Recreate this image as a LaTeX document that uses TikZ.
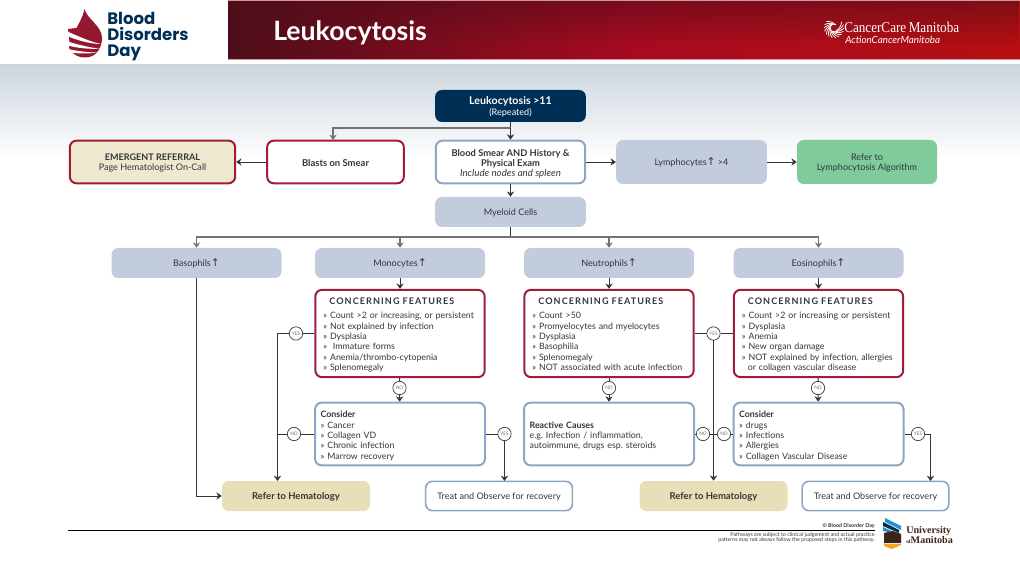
\documentclass[tikz,border=0pt]{standalone}
\usepackage{fontspec}
\setmainfont{Lato}
\newfontfamily\serifbrand{Liberation Serif}
\newfontfamily\serifnarrow[FakeStretch=0.88]{Liberation Serif}
\newfontfamily\wordmark{Poppins}
\newfontfamily\symbolfont{DejaVu Sans}
\usetikzlibrary{arrows.meta,fadings}
\definecolor{navy}{HTML}{002F56}
\definecolor{crimson}{HTML}{A11C36}
\definecolor{steel}{HTML}{8FA5C6}
\definecolor{mist}{HTML}{C2CCDC}
\definecolor{sand}{HTML}{E8DFB8}
\definecolor{cream}{HTML}{EEE8CF}
\definecolor{leaf}{HTML}{7FCB9C}
\definecolor{ink}{HTML}{333638}
\definecolor{drop}{HTML}{94182F}
\definecolor{haze}{HTML}{CCD6DE}
\definecolor{bannerl}{HTML}{4E0D1A}
\definecolor{bannerm}{HTML}{A80B20}
\definecolor{bannerr}{HTML}{B50F12}
\definecolor{shieldb}{HTML}{2A8FD0}
\definecolor{bison}{HTML}{3E2418}
\definecolor{wheat}{HTML}{F2A81E}
\tikzset{
  box/.style={rounded corners=5pt,inner sep=0pt,align=center,text=ink,
    font=\fontsize{6.8}{7.8}\selectfont},
  redbox/.style={box,draw=crimson,line width=1.5pt,fill=white},
  bluebox/.style={box,draw=steel,line width=1.5pt,fill=white},
  graybox/.style={box,fill=mist},
  listbox/.style={align=left,inner xsep=6pt,text width=115pt,minimum height=65.5pt,
    font=\fontsize{6.6}{7.8}\selectfont},
  conbox/.style={align=left,inner xsep=4.25pt,text width=119pt,minimum height=47pt,
    font=\fontsize{6.6}{7.8}\selectfont},
  cell/.style={graybox,minimum width=127.5pt,minimum height=22.5pt},
  tag/.style={circle,draw=ink,line width=.5pt,fill=white,inner sep=0pt,minimum size=10pt,
    text=ink!70,font=\fontsize{3.6}{4}\selectfont},
  link/.style={ink,line width=.7pt,>={Stealth[length=4pt,width=5.5pt]}},
  bus/.style={link,draw=ink!70,line width=1pt},
  refer/.style={box,fill=sand,minimum width=111pt,minimum height=22.5pt,
    font=\fontsize{7.1}{7.8}\selectfont\bfseries},
  treat/.style={bluebox,line width=1.2pt,minimum width=110pt,minimum height=22pt},
}
\newcommand{\dn}[1]{\rule{0pt}{#1pt}}
\newcommand{\up}{{\symbolfont\fontsize{8}{7}\selectfont ↑}}
\newcommand{\cftitle}{{\addfontfeature{LetterSpace=12}\fontsize{6.8}{7.8}\selectfont\bfseries CONCERNING FEATURES}}
\begin{document}
\begin{tikzpicture}[x=.75pt,y=-.75pt]
\useasboundingbox(0,0)rectangle(1020,573);
% backdrop and banner
\shade[top color=haze,bottom color=white](0,65)rectangle(1020,160);
\shade[left color=bannerl,right color=bannerm](228,0)rectangle(640,60);
\shade[left color=bannerm,right color=bannerr](640,0)rectangle(1020,60);
\fill[black!45!drop,opacity=.55,path fading=south](228,0)rectangle(1020,45);
\draw[white!55!drop,line width=.75pt](228,.4)--(1020,.4)(228,59.6)--(1020,59.6);
\node[anchor=west,inner sep=0pt,text=white,font=\fontsize{20}{22}\selectfont\bfseries]at(273,33){Leukocytosis};
% blood drop emblem
\fill[drop](84.5,9)..controls(83,17)and(79,23)..(76.5,28)--(68,29)..controls(69,36)and(70,44)..(69,48)
  ..controls(72,54)and(78,58)..(86,57.5)..controls(97,57)and(102,47)..(102,38)
  ..controls(102,26)and(87,19)..(84.5,9)--cycle;
\fill[white](66,31)..controls(76,35)and(90,42)..(101,44)..controls(90,44)and(76,40)..(66,35.5)--cycle;
\fill[white](66,41)..controls(76,44)and(90,48)..(100,48.5)..controls(90,49.5)and(76,48)..(66,45)--cycle;
\fill[white](66,48.5)..controls(76,51)and(88,52.5)..(97,52.5)..controls(88,54)and(76,54)..(66,51.5)--cycle;
\node[anchor=west,inner sep=0pt,text=navy,align=left,font=\wordmark\fontsize{12.4}{12}\selectfont\bfseries]at(107,36.5){Blood\\Disorders\\Day};
% cancer care mark
\foreach\r in {-40,-20,...,220}{
  \draw[white,line width=.55pt]([shift={(\r:10)}]834,28)to[bend left=25]([shift={(\r+85:3.5)}]834,28);
}
\node[anchor=west,text=white,inner sep=0pt,font=\serifnarrow\fontsize{11.2}{12}\selectfont]at(844,27){CancerCare\,Manitoba};
\node[anchor=west,text=white,inner sep=0pt,font=\fontsize{7.4}{9}\selectfont\itshape]at(845,40){ActionCancerManitoba};
% flow, top part
\node[box,fill=navy,text=white,minimum width=113pt,minimum height=24pt](leuk)at(510.5,106)
  {\dn{7}{\fontsize{8}{9}\selectfont\bfseries Leukocytosis >11}\\(Repeated)};
\node[redbox,minimum width=102.5pt,minimum height=32pt,font=\fontsize{7.1}{7.8}\selectfont\bfseries](blasts)at(335.5,162){\dn{6.5}Blasts on Smear};
\node[redbox,fill=cream,minimum width=124pt,minimum height=32pt](emerg)at(152.5,162)
  {\dn{6.5}\textbf{EMERGENT REFERRAL}\\Page Hematologist On-Call};
\node[bluebox,minimum width=112pt,minimum height=32pt](smear)at(510.5,162)
  {\dn{8}{\fontsize{7}{7.8}\selectfont\textbf{Blood Smear AND History \&}}\\{\fontsize{7}{7.8}\selectfont\textbf{Physical Exam}}\\{\fontsize{7.3}{7.8}\selectfont\textit{Include nodes and spleen}}};
\node[graybox,minimum width=113pt,minimum height=33pt](lymph)at(691.5,162){\dn{6.5}Lymphocytes\up\ >4};
\node[box,fill=leaf,minimum width=105pt,minimum height=33pt](algo)at(867,162){\dn{6.5}Refer to\\Lymphocytosis Algorithm};
\node[graybox,minimum width=113pt,minimum height=22.5pt](myeloid)at(510.5,212){\dn{6.5}Myeloid Cells};
\coordinate(topbus)at(510.5,128);
\coordinate(midbus)at(510.5,237);
\coordinate(blastin)at(333,140);
\draw[link](leuk)--(topbus);
\draw[bus,->](topbus)-|(blastin);
\draw[link,->](topbus)--(smear);
\draw[link,->](blasts)--(emerg);
\draw[link,->](smear)--(lymph);
\draw[link,->](lymph)--(algo);
\draw[link,->](smear)--(myeloid);
% the four cell lines
\node[cell](baso)at(196.5,263){\dn{6.5}Basophils\up};
\node[cell](mono)at(400,263){\dn{6.5}Monocytes\up};
\node[cell](neut)at(609,263){\dn{6.5}Neutrophils\up};
\node[cell](eosi)at(818.5,263){\dn{6.5}Eosinophils\up};
\draw[link](myeloid)--(midbus);
\draw[bus,->](midbus)-|(baso);
\draw[bus,->](midbus)-|(mono);
\draw[bus,->](midbus)-|(neut);
\draw[bus,->](midbus)-|(eosi);
\node[redbox,listbox](cfa)at(400,333.5){\hspace*{4.5pt}\dn{7}\cftitle\\[3.2pt]
  » Count >2 or increasing, or persistent\\» Not explained by infection\\» Dysplasia\\»\ \ Immature forms\\» Anemia/thrombo-cytopenia\\» Splenomegaly\vphantom{y}};
\node[redbox,listbox](cfb)at(609,333.5){\hspace*{4.5pt}\dn{7}\cftitle\\[3.2pt]
  » Count >50\\» Promyelocytes and myelocytes\\» Dysplasia\\» Basophilia\\» Splenomegaly\\» NOT associated with acute infection\vphantom{y}};
\node[redbox,listbox](cfc)at(818.5,333.5){\hspace*{4.5pt}\dn{7}\cftitle\\[3.2pt]
  » Count >2 or increasing or persistent\\» Dysplasia\\» Anemia\\» New organ damage\\» NOT explained by infection, allergies\\\hspace*{4.5pt}or collagen vascular disease\vphantom{y}};
\node[bluebox,conbox](cona)at(400,434){\dn{8}\textbf{Consider}\\» Cancer\\» Collagen VD\\» Chronic infection\\» Marrow recovery\vphantom{y}};
\node[bluebox,conbox](reac)at(609,434){\dn{8}\textbf{Reactive Causes}\\e.g.\ Infection / inflammation,\\autoimmune, drugs esp.\ steroids};
\node[bluebox,conbox](conc)at(818.5,434){\dn{8}\textbf{Consider}\\» drugs\\» Infections\\» Allergies\\» Collagen Vascular Disease\vphantom{y}};
\draw[link,->](mono)--(cfa);
\draw[link,->](neut)--(cfb);
\draw[link,->](eosi)--(cfc);
\node[tag](noa)at(399.5,388){NO};
\node[tag](nob)at(609,388){NO};
\node[tag](noc)at(818,388){NO};
\draw[link,->](cfa)--(noa)--(cona);
\draw[link,->](cfb)--(nob)--(reac);
\draw[link,->](cfc)--(noc)--(conc);
% outcomes
\node[refer](refa)at(296,496){\dn{6.5}Refer to Hematology};
\node[refer](refb)at(713.5,496){\dn{6.5}Refer to Hematology};
\node[treat](trta)at(499,496){\dn{6.5}Treat and Observe for recovery};
\node[treat](trtb)at(875.5,496){\dn{6.5}Treat and Observe for recovery};
\node[tag](yesa)at(296,333.5){YES};
\node[tag](nod)at(294,434){NO};
\node[tag](yesb)at(713.5,333.5){YES};
\node[tag](noe)at(703,434){NO};
\node[tag](nof)at(724,434){NO};
\node[tag](yesc)at(504.5,434){YES};
\node[tag](yesd)at(918,434){YES};
\coordinate(joina)at(277.5,333.5);
\coordinate(joinb)at(277.5,434);
\coordinate(dropa)at(277.5,481);
\coordinate(bend)at(930.5,434);
\coordinate(dropb)at(930.5,481);
\coordinate(dropc)at(504.5,481);
\coordinate(basodown)at(196.5,496);
\draw[link](cfa)--(yesa)--(joina);
\draw[link,->](joina)--(dropa);
\draw[link](cona)--(nod)--(joinb);
\draw[link,->](baso)--(basodown)--(refa);
\draw[link](cfb)--(yesb)--(cfc);
\draw[link,->](yesb)--(refb);
\draw[link](reac)--(noe)--(nof)--(conc);
\draw[link](cona)--(yesc);
\draw[link,->](yesc)--(dropc);
\draw[link](conc)--(yesd)--(bend);
\draw[link,->](bend)--(dropb);
% footer
\coordinate(rulel)at(68,530);
\coordinate(ruler)at(875,530);
\draw[black,line width=.7pt](rulel)--(ruler);
\node[anchor=south east,inner sep=0pt,text=ink,font=\fontsize{4}{4.6}\selectfont\bfseries]at(875,528.5){© Blood Disorder Day};
\node[anchor=north east,inner sep=0pt,align=right,text=ink,font=\fontsize{4}{4.2}\selectfont]at(875,532){Pathways are subject to clinical judgement and actual practice\\patterns may not always follow the proposed steps in this pathway.};
% university crest
\fill[shieldb](885,518)--(901,526)--(901,530)--(885,522)--cycle;
\fill[navy](883,522)--(899,530)--(899,533)--(883,526)--cycle;
\fill[shieldb](883,527)--(892,531)--(892,533)--(883,531)--cycle;
\fill[bison](884,533)--(893,531)--(901,534)--(901,543)--(884,543)--cycle;
\fill[wheat](884,544)--(901,544)--(901,545)--(892,549)--(884,546)--cycle;
\node[anchor=west,inner sep=0pt,align=left,text=bison,font=\serifbrand\fontsize{7.6}{7.5}\selectfont\bfseries]at(906,535.5){University\\{\fontsize{4}{5}\selectfont of}Manitoba};
\end{tikzpicture}
\end{document}
